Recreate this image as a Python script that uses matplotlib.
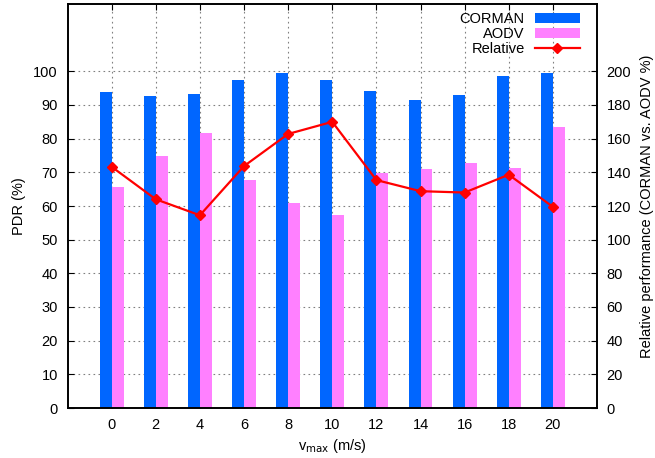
import numpy as np
import matplotlib
matplotlib.use("Agg")
from matplotlib import pyplot as plt

plt.rcParams['font.family'] = ['Liberation Sans', 'DejaVu Sans']
plt.rcParams['font.size'] = 10.5

# values
vmax = [0, 2, 4, 6, 8, 10, 12, 14, 16, 18, 20]
corman = [94.0, 92.8, 93.4, 97.3, 99.4, 97.3, 94.3, 91.4, 92.9, 98.7, 99.5]
aodv = [65.7, 75.0, 81.8, 67.8, 61.0, 57.4, 69.7, 71.1, 72.7, 71.4, 83.4]
relative = [143.3, 124.0, 114.5, 143.7, 162.8, 170.0, 135.4, 128.8, 128.0, 138.6, 119.5]

fig = plt.figure(figsize=(6.55, 4.58), dpi=100)
ax = fig.add_axes([67.5 / 655, 1 - 408 / 458, (597 - 67.5) / 655, (408 - 4) / 458])
ax2 = ax.twinx()

x = np.arange(len(vmax))
w = 0.27
b1 = ax.bar(x - w / 2, corman, w, color='#0066ff', label='CORMAN', zorder=2)
b2 = ax.bar(x + w / 2, aodv, w, color='#ff80ff', label='AODV', zorder=2)
l1, = ax2.plot(x, relative, color='#ff0000', lw=1.6, marker='D', ms=5,
               label='Relative', zorder=3)

ax.set_xlim(-1, 11)
ax.set_ylim(0, 120)
ax2.set_ylim(0, 240)
ax.set_xticks(x)
ax.set_xticklabels([str(v) for v in vmax])
ax.set_yticks(np.arange(0, 101, 10))
ax2.set_yticks(np.arange(0, 201, 20))

ax.tick_params(axis='both', direction='in', length=4.5, width=0.8, pad=7,
               top=True, colors='black')
ax2.tick_params(axis='y', direction='in', length=4.5, width=0.8, pad=7)

ax.grid(True, color='#808080', linestyle=(0, (1.5, 3)), linewidth=0.8, zorder=0)
ax.set_axisbelow(True)
for a in (ax, ax2):
    for s in a.spines.values():
        s.set_linewidth(1.2)

ax.set_ylabel('PDR (%)', labelpad=5)
ax2.set_ylabel('Relative performance (CORMAN vs. AODV %)', labelpad=6)
ax.set_xlabel(r'v$_{\mathrm{max}}$ (m/s)', labelpad=4)

ax2.legend([b1, b2, l1], ['CORMAN', 'AODV', 'Relative'], loc='upper right',
           bbox_to_anchor=(580 / 655, 1 - 12 / 458), bbox_transform=fig.transFigure,
           frameon=False, markerfirst=False, handlelength=3.1, handletextpad=0.7,
           labelspacing=0.08, borderpad=0, borderaxespad=0, handleheight=0.7)

fig.savefig('out.png', dpi=100)
